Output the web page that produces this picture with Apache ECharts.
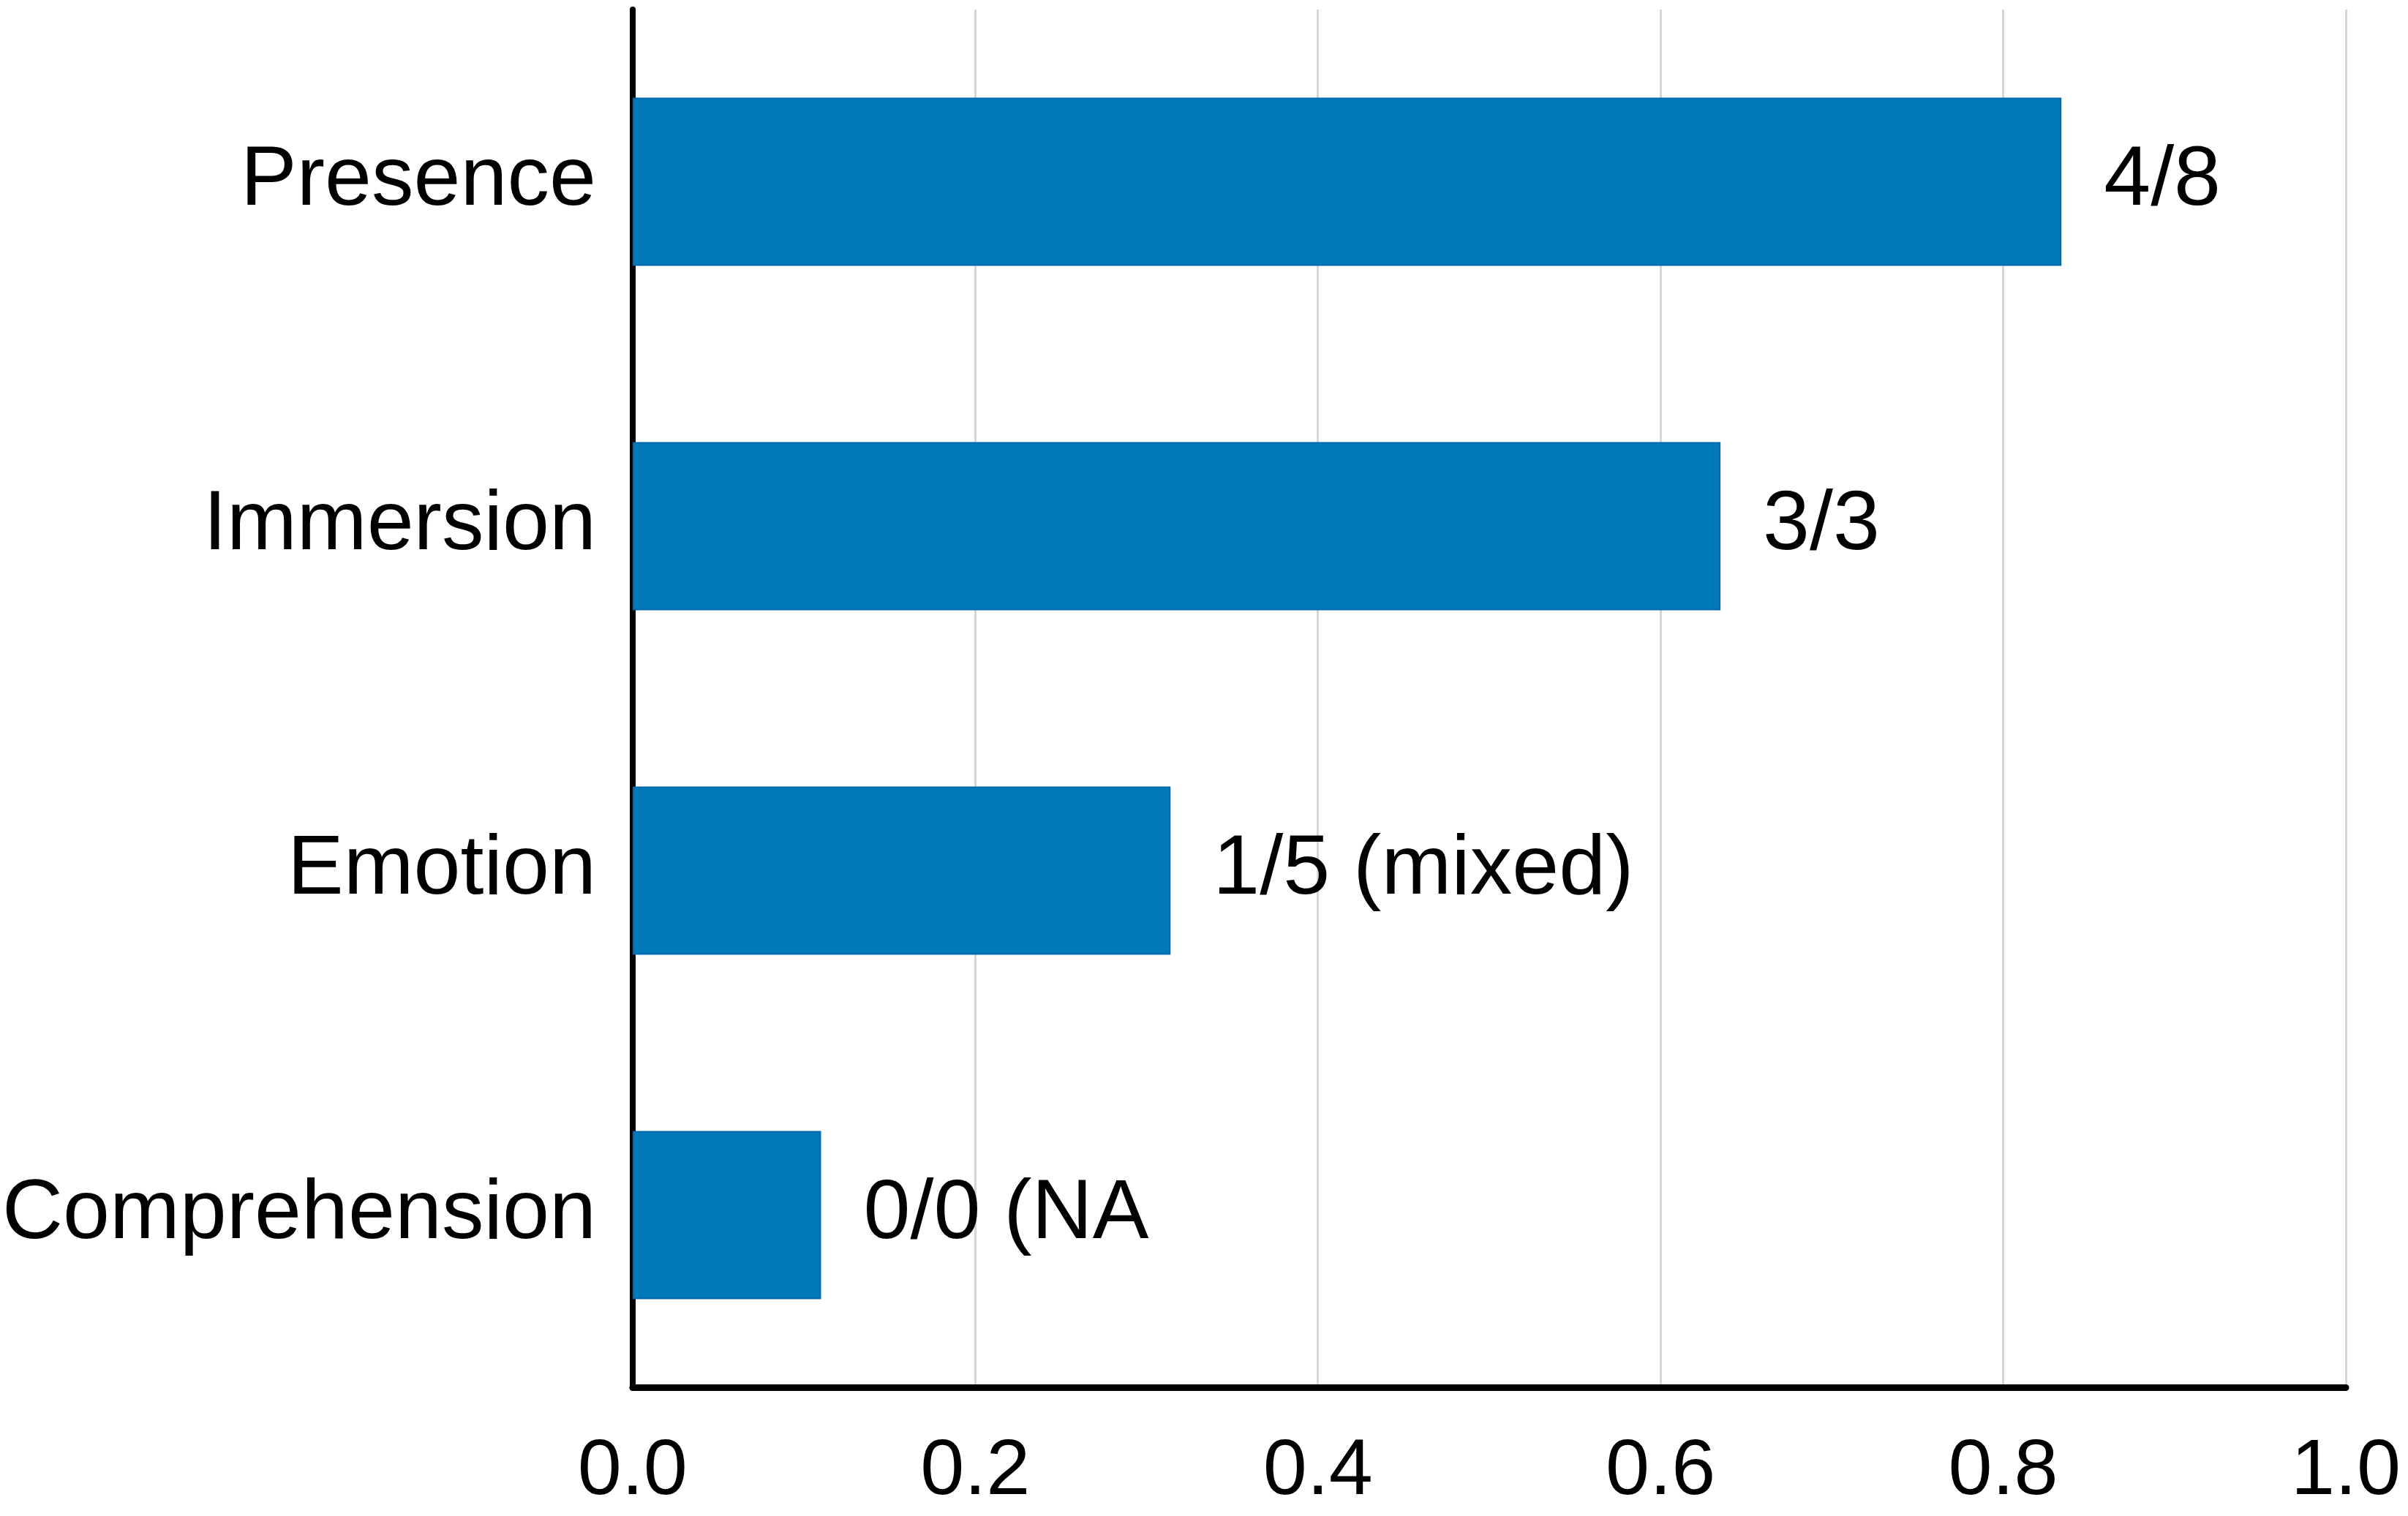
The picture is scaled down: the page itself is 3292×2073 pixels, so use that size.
<!DOCTYPE html>
<html>
<head>
<meta charset="utf-8">
<script src="https://cdn.jsdelivr.net/npm/echarts@6/dist/echarts.min.js"></script>
<style>
html,body{margin:0;padding:0;background:#fff;}
#chart{width:3292px;height:2073px;}
</style>
</head>
<body>
<div id="chart"></div>
<script>
const categories = ["Presence", "Immersion", "Emotion", "Comprehension"];
const values = [0.834, 0.635, 0.314, 0.110];
const valueLabels = ["4/8", "3/3", "1/5 (mixed)", "0/0 (NA"];
const xTicks = ["0.0", "0.2", "0.4", "0.6", "0.8", "1.0"];

const chart = echarts.init(document.getElementById('chart'), null, {renderer: 'canvas'});
const font = '"Liberation Sans", Arial, Helvetica, sans-serif';
chart.setOption({
  backgroundColor: '#ffffff',
  animation: false,
  grid: {left: 856, right: 85, top: 13, bottom: 176, containLabel: false},
  xAxis: {
    type: 'value', min: 0, max: 1, interval: 0.2,
    axisLine: {show: true, lineStyle: {color: '#000', width: 9}},
    axisTick: {show: false},
    axisLabel: {
      fontSize: 108, color: '#000', fontFamily: font, margin: 62,
      formatter: function (v) { return xTicks[Math.round(v / 0.2)]; }
    },
    splitLine: {show: true, lineStyle: {color: '#d6d6d6', width: 3}}
  },
  yAxis: {
    type: 'category', data: categories, inverse: true,
    axisLine: {show: true, lineStyle: {color: '#000', width: 8}},
    axisTick: {show: false},
    axisLabel: {fontSize: 115, color: '#000', fontFamily: font, margin: 50},
    splitLine: {show: false}
  },
  series: [{
    type: 'bar',
    data: values,
    barWidth: 230,
    itemStyle: {color: '#007AB8', borderColor: '#0066AE', borderWidth: 2},
    label: {
      show: true, position: 'right', distance: 58,
      fontSize: 115, color: '#000', fontFamily: font,
      formatter: function (p) { return valueLabels[p.dataIndex]; }
    }
  }]
});
</script>
</body>
</html>
